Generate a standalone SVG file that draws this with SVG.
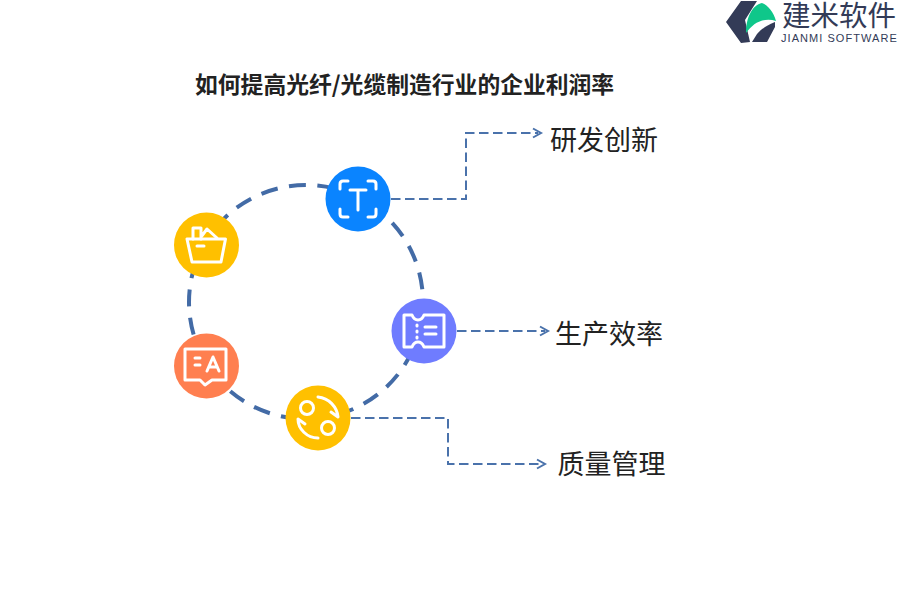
<svg xmlns="http://www.w3.org/2000/svg" width="900" height="600" viewBox="0 0 900 600">
<style>
text{font-family:"Noto Sans CJK SC","Liberation Sans",sans-serif;fill:#222}
.lbl{font-size:27px}
.ring{fill:none;stroke:#436ba6;stroke-width:4;stroke-dasharray:17 11.5}
.conn{fill:none;stroke:#4a72ab;stroke-width:2;stroke-dasharray:9.500 4.500}
.head{fill:none;stroke:#4a72ab;stroke-width:2}
.ic{fill:none;stroke:#fff;stroke-width:3;stroke-linecap:round;stroke-linejoin:round}
</style>
<rect width="900" height="600" fill="#fff"/>
<g id="logo">
<path d="M741 1H757L745 20L750 42L741 43L726 22Z" fill="#333b57"/>
<path d="M746 33C746 18 752 5 762 3C768 5 774 13 776 21C765 17 754 22 746 33Z" fill="#0fc78a"/>
<path d="M775 22V27L767 42H752L757 34C762 28 768 25 775 22Z" fill="#333b57"/>
<text x="782" y="26" style="font-size:28.500px;fill:#333b57">建米软件</text>
<text x="781" y="42" style="font-family:'Liberation Sans',sans-serif;font-size:11px;letter-spacing:1.050px;fill:#333b57">JIANMI SOFTWARE</text>
</g>
<text id="title" x="195" y="93" style="font-size:22.800px;font-weight:700">如何提高光纤/光缆制造行业的企业利润率</text>
<g id="connectors">
<circle class="ring" cx="306" cy="302" r="117" stroke-dashoffset="7.500"/>
<path class="conn" d="M391 199H466V133H538"/>
<path class="head" d="M533 128.500L541 133L533 137.500"/>
<path class="conn" d="M457 331H545"/>
<path class="head" d="M540 326.500L548 331L540 335.500"/>
<path class="conn" d="M351 418H448V464H542"/>
<path class="head" d="M537 459.500L545 464L537 468.500"/>
</g>
<g id="node-basket">
<circle cx="206.500" cy="245" r="32.500" fill="#ffc000"/>
<path class="ic" d="M187 239H225.500L221 262H192Z"/>
<path class="ic" d="M193 239V228H201V239M201 237L207 229L217 238"/>
<path class="ic" d="M197 246H204"/>
</g>
<g id="node-text">
<circle cx="358" cy="199" r="32.500" fill="#0a84ff"/>
<path class="ic" d="M340 189V184Q340 181 343 181H348M368 181H373Q376 181 376 184V189M376 209V214Q376 217 373 217H368M348 217H343Q340 217 340 214V209"/>
<path class="ic" d="M350 190H366M358 190V210"/>
</g>
<g id="node-ticket">
<circle cx="424" cy="331" r="32.500" fill="#6f7cff"/>
<path class="ic" d="M404 315H412Q414 320 418 320Q422 320 424 315H444V347H424Q422 342 418 342Q414 342 412 347H404Z"/>
<path class="ic" d="M417 325V326M417 331V332M417 337V338M425 327H436M425 334H436"/>
</g>
<g id="node-cycle">
<circle cx="318" cy="418" r="32.500" fill="#ffc000"/>
<circle class="ic" cx="307" cy="408" r="6.500"/>
<circle class="ic" cx="328" cy="428" r="6.500"/>
<path class="ic" d="M318 397C329 398 337 407 338 417L331 412M318 438C307 438 298 429 298 419L305 424"/>
</g>
<g id="node-chat">
<circle cx="206.500" cy="366" r="32.500" fill="#ff7f50"/>
<path class="ic" d="M185 349H226V380H212L205 385L200 380H185Z"/>
<path class="ic" d="M195 358H200M195 365H200M207 371L213 357L219 371M209 367H217"/>
</g>
<text id="label-1" class="lbl" x="550" y="150">研发创新</text>
<text id="label-2" class="lbl" x="555" y="344">生产效率</text>
<text id="label-3" class="lbl" x="557.500" y="474">质量管理</text>
</svg>
